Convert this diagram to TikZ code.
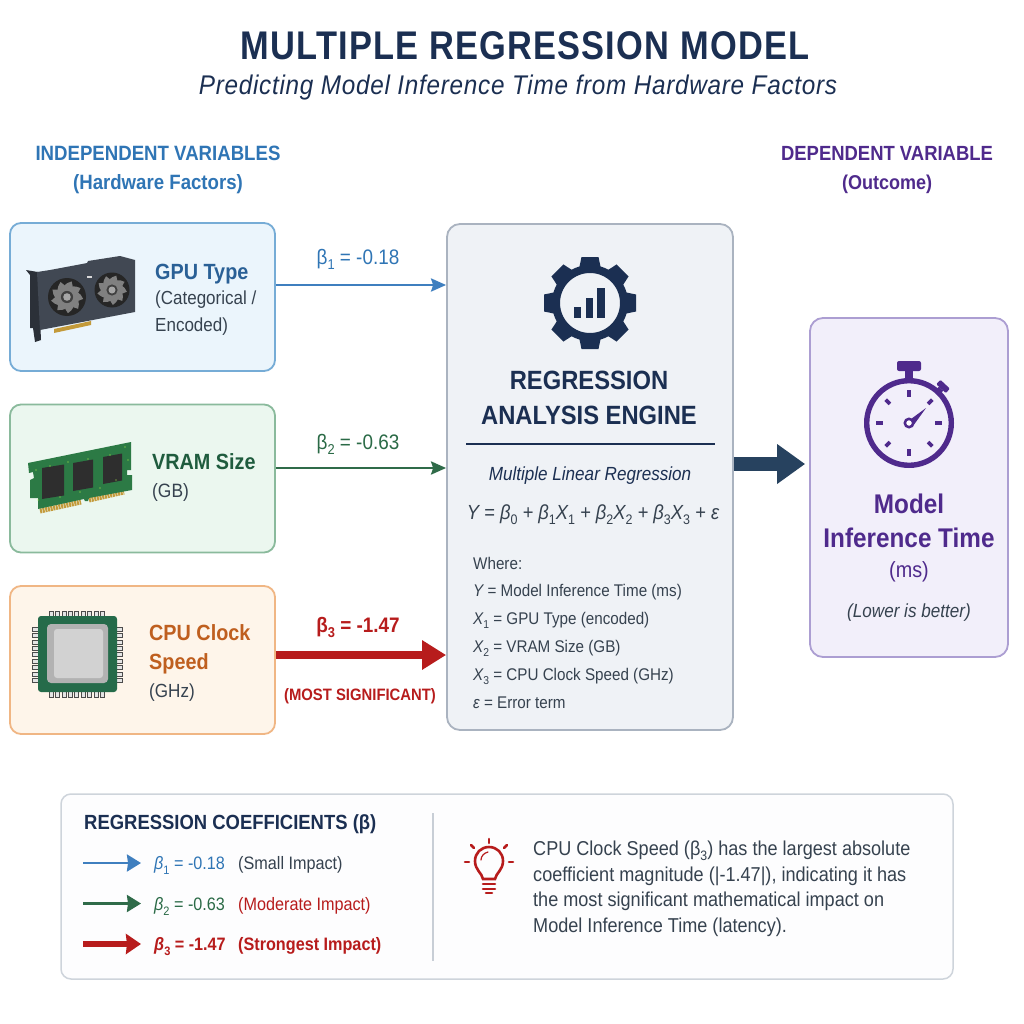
\documentclass[tikz,border=0pt]{standalone}
\usepackage{fontspec}
\setmainfont[FakeStretch=0.9]{Liberation Sans}
\newfontfamily\titlefont[FakeStretch=0.86,LetterSpace=3]{Liberation Sans}
\newfontfamily\subfont[FakeStretch=0.9,LetterSpace=2.7]{Liberation Sans}
\usetikzlibrary{arrows.meta}

\definecolor{navy}{HTML}{1B2F52}
\definecolor{bluetxt}{HTML}{2F75B5}
\definecolor{bluedark}{HTML}{2A6096}
\definecolor{greentxt}{HTML}{2A6A46}
\definecolor{greendark}{HTML}{1F5C3E}
\definecolor{orangetxt}{HTML}{BF5F1F}
\definecolor{redtxt}{HTML}{B71C1C}
\definecolor{purpletxt}{HTML}{4F2A8C}
\definecolor{greytxt}{HTML}{36424F}
\definecolor{arrowblue}{HTML}{3F7FBF}
\definecolor{arrowgreen}{HTML}{2F6B49}
\definecolor{arrowdark}{HTML}{27425F}
\definecolor{cardbody}{HTML}{414853}
\definecolor{cardedge}{HTML}{2B3038}
\definecolor{pcbgreen}{HTML}{2C7A45}
\definecolor{pkggreen}{HTML}{256B4A}
\definecolor{goldpin}{HTML}{C39A3A}

\newcommand{\fs}[1]{\fontsize{#1}{#1}\selectfont}
\newcommand{\sbs}[1]{\raisebox{-.28em}{\scalebox{.68}{\upshape #1}}}
\newcommand{\bt}[1]{{\itshape β}\sbs{#1}}
\newcommand{\bu}[1]{β\sbs{#1}}
\newcommand{\xs}[1]{{\itshape X}\sbs{#1}}

\begin{document}
\begin{tikzpicture}[x=1pt,y=-1pt,>={Stealth[length=15pt,width=13pt,inset=2pt]},node distance=181.5pt,
  inbox/.style={rectangle,rounded corners=11pt,minimum width=265pt,minimum height=148pt,inner sep=0pt,line width=1.8pt},
  bigbox/.style={rectangle,rounded corners=13pt,inner sep=0pt,line width=1.8pt},
  lbl/.style={inner sep=0pt,anchor=base west},
  mid/.style={inner sep=0pt,anchor=base},
  where/.style={lbl,font=\fs{16.9},text=greytxt},
  note/.style={lbl,font=\fs{20.1},text=greytxt},
  legend/.style={lbl,font=\fs{18}}]

\useasboundingbox (0,0) rectangle (1024,1024);
\fill[white] (0,0) rectangle (1024,1024);

% define the title
\node[mid,font=\fs{40}\titlefont\bfseries,text=navy] (title) at (525,60) {MULTIPLE REGRESSION MODEL};
\node[mid,font=\fs{27}\subfont\itshape,text=navy] (subtitle) at (518,95) {Predicting Model Inference Time from Hardware Factors};

\node[mid,font=\fs{20.7}\bfseries,text=bluetxt] (indep) at (158,161) {INDEPENDENT VARIABLES};
\node[mid,font=\fs{20.7}\bfseries,text=bluetxt] (indepsub) at (158,190) {(Hardware Factors)};
\node[mid,font=\fs{20.5}\bfseries,text=purpletxt] (dep) at (887,161) {DEPENDENT VARIABLE};
\node[mid,font=\fs{20}\bfseries,text=purpletxt] (depsub) at (887,190) {(Outcome)};

% define the boxes
\node[inbox,draw={rgb,255:red,118;green,172;blue,214},fill={rgb,255:red,235;green,245;blue,252}] (gpu) at (142.5,297) {};
\node[inbox,draw={rgb,255:red,138;green,186;blue,156},fill={rgb,255:red,235;green,247;blue,239}] (vram) [below of=gpu] {};
\node[inbox,draw={rgb,255:red,240;green,182;blue,132},fill={rgb,255:red,254;green,245;blue,234}] (cpu) [below of=vram] {};
\node[bigbox,draw={rgb,255:red,170;green,179;blue,192},fill={rgb,255:red,239;green,242;blue,246},minimum width=286pt,minimum height=506pt] (engine) at (590,477) {};
\node[bigbox,draw={rgb,255:red,172;green,158;blue,210},fill={rgb,255:red,242;green,239;blue,250},minimum width=198pt,minimum height=339pt] (output) at (909,487.5) {};
\node[rectangle,rounded corners=10pt,draw={rgb,255:red,206;green,212;blue,219},line width=1.5pt,fill={rgb,255:red,253;green,253;blue,254},minimum width=892pt,minimum height=185pt,inner sep=0pt] (panel) at (507,886.5) {};

% box texts
\node[lbl,font=\fs{22}\bfseries,text=bluedark] (gputxt) at (155,279) {GPU Type};
\node[lbl,font=\fs{18.9},text=greytxt] (gpusub) at (155,304) {(Categorical /};
\node[lbl,font=\fs{18.9},text=greytxt] (gpusubb) at (155,331) {Encoded)};
\node[lbl,font=\fs{22}\bfseries,text=greendark] (vramtxt) at (152,469) {VRAM Size};
\node[lbl,font=\fs{19.3},text=greytxt] (vramsub) at (152,497) {(GB)};
\node[lbl,font=\fs{22}\bfseries,text=orangetxt] (cputxt) at (149,640) {CPU Clock};
\node[lbl,font=\fs{22}\bfseries,text=orangetxt] (cputxtb) at (149,669) {Speed};
\node[lbl,font=\fs{19},text=greytxt] (cpusub) at (149,697) {(GHz)};

\node[mid,font=\fs{26.4}\bfseries,text=navy] (engtxt) at (589,389) {REGRESSION};
\node[mid,font=\fs{26.4}\bfseries,text=navy] (engtxtb) at (589,424) {ANALYSIS ENGINE};
\draw[navy,line width=1.4pt] (466,444) -- (715,444);
\node[mid,font=\fs{19}\itshape,text=navy] (mlr) at (590,480) {Multiple Linear Regression};
\node[mid,font=\fs{20.4}\itshape,text=greytxt] (formula) at (593,519) {Y = \bt{0} + \bt{1}X\sbs{1} + \bt{2}X\sbs{2} + \bt{3}X\sbs{3} + ε};
\node[where] (wh0) at (473,569) {Where:};
\node[where] (wh1) at (473,596) {{\itshape Y} = Model Inference Time (ms)};
\node[where] (wh2) at (473,624) {\xs{1} = GPU Type (encoded)};
\node[where] (wh3) at (473,652) {\xs{2} = VRAM Size (GB)};
\node[where] (wh4) at (473,680) {\xs{3} = CPU Clock Speed (GHz)};
\node[where] (wh5) at (473,708) {{\itshape ε} = Error term};

\node[mid,font=\fs{27}\bfseries,text=purpletxt] (outtxt) at (909,513) {Model};
\node[mid,font=\fs{27}\bfseries,text=purpletxt] (outtxtb) at (909,547) {Inference Time};
\node[mid,font=\fs{22},text=purpletxt] (outsub) at (909,577) {(ms)};
\node[mid,font=\fs{19}\itshape,text=greytxt] (outnote) at (909,617) {(Lower is better)};

% define the links
\path[->,draw=arrowblue,line width=2.6pt] ([yshift=12pt]gpu.east) -- ([yshift=12pt]gpu.east -| engine.west);
\path[->,draw=arrowgreen,line width=2.6pt] ([yshift=10.5pt]vram.east) -- ([yshift=10.5pt]vram.east -| engine.west);
\path[-{Stealth[length=24pt,width=28pt,inset=0pt]},draw=redtxt,line width=8pt] (cpu.east |- 0,655) -- (engine.west |- 0,655);
\path[-{Stealth[length=28pt,width=38pt,inset=0pt]},draw=arrowdark,line width=14pt,shorten >=4pt] (engine.east |- 0,464) -- (output.west |- 0,464);

\node[mid,font=\fs{21},text=bluetxt] (b1) at (358,264) {\bu{1} = -0.18};
\node[mid,font=\fs{21},text=greentxt] (b2) at (358,449) {\bu{2} = -0.63};
\node[mid,font=\fs{21}\bfseries,text=redtxt] (b3) at (358,632) {\bu{3} = -1.47};
\node[mid,font=\fs{16.5}\bfseries,text=redtxt] (most) at (360,700) {(MOST SIGNIFICANT)};

% panel contents
\node[lbl,font=\fs{20.5}\bfseries,text=navy] (coef) at (84,829) {REGRESSION COEFFICIENTS (β)};
\draw[draw={rgb,255:red,200;green,206;blue,214},line width=1.2pt] (433,813) -- (433,961);

\coordinate (la1) at (83,863);
\coordinate (la1e) at (141,863);
\coordinate (la2) at (83,903.5);
\coordinate (la2e) at (141,903.5);
\coordinate (la3) at (83,944);
\coordinate (la3e) at (141,944);
\path[-{Stealth[length=14pt,width=17pt,inset=1pt]},draw=arrowblue,line width=2.6pt] (la1) -- (la1e);
\path[-{Stealth[length=14pt,width=17pt,inset=1pt]},draw=arrowgreen,line width=2.6pt] (la2) -- (la2e);
\path[-{Stealth[length=15pt,width=20pt,inset=1pt]},draw=redtxt,line width=6.5pt] (la3) -- (la3e);

\node[legend,text=bluetxt] (l1) at (154,869) {\bt{1} = -0.18};
\node[legend,text=greytxt] (l1b) at (238,869) {(Small Impact)};
\node[legend,text=greentxt] (l2) at (154,910) {\bt{2} = -0.63};
\node[legend,text=redtxt] (l2b) at (238,910) {(Moderate Impact)};
\node[legend,text=redtxt,font=\fs{18}\bfseries] (l3) at (154,950) {\bt{3} = -1.47};
\node[legend,text=redtxt,font=\fs{18}\bfseries] (l3b) at (238,950) {(Strongest Impact)};

\node[note] (n1) at (533,855) {CPU Clock Speed (β\sbs{3}) has the largest absolute};
\node[note] (n2) at (533,881) {coefficient magnitude (|-1.47|), indicating it has};
\node[note] (n3) at (533,906) {the most significant mathematical impact on};
\node[note] (n4) at (533,932) {Model Inference Time (latency).};

% graphics card
\fill[cardedge] (26,270) -- (38,272) -- (41,340) -- (35,342) -- (33,328) -- (30,328) -- (30,275) -- cycle;
\fill[goldpin] (54,329) -- (91,321) -- (91,325) -- (54,333) -- cycle;
\fill[cardbody] (37,272) -- (50,270) -- (82,264) -- (87,263) -- (88,261) -- (120,256) -- (135,260) -- (135,312) -- (40,330) -- cycle;
\foreach \fx/\fy/\fr in {67/297/19,112/290/17.5} {
  \begin{scope}[shift={(\fx,\fy)}]
    \fill[black!85] (0,0) circle (\fr);
    \foreach \a in {0,40,...,320}
      \fill[black!50,rotate=\a] (0,-.25*\fr) .. controls (.5*\fr,-.45*\fr) and (.7*\fr,-.2*\fr) .. (.85*\fr,.1*\fr) -- (.6*\fr,.2*\fr) .. controls (.45*\fr,-.05*\fr) and (.2*\fr,-.15*\fr) .. cycle;
    \fill[black!75] (0,0) circle (.32*\fr);
    \fill[gray!70] (0,0) circle (.2*\fr);
  \end{scope}
}
\fill[black!15] (87,276) rectangle (92,278);

% memory module
\draw[goldpin,line width=5pt,dash pattern=on 2pt off .7pt] (40,511) -- (81,502);
\draw[goldpin,line width=5pt,dash pattern=on 2pt off .7pt] (89,500) -- (124,492);
\fill[pcbgreen] (28,463) -- (131,442) -- (131,470) -- (127,470) -- (127,475) -- (132,475) -- (132,490) -- (89,498) -- (88,501) -- (85,501) -- (84,499) -- (38,509) -- (38,498) -- (30,498) -- (30,480) -- (34,478) -- (33,472) -- (29,473) -- cycle;
\foreach \cx/\cy/\cw/\ch in {42/468/22/31,73/463/20/28,103/457/19/27}
  \fill[black!82] (\cx,\cy) -- ++(\cw,-3.5) -- ++(0,\ch) -- ++(-\cw,3.5) -- cycle;
\foreach \dx/\dy in {36/470,50/466,68/462,88/459,110/455,125/447,128/460,38/500,60/497,80/492,100/488,116/480}
  \fill[green!40!yellow!70!white] (\dx,\dy) circle (.7);

% processor
\foreach \k in {0,...,8} {
  \filldraw[fill=gray!20,draw=black!70,line width=.6pt] (49+\k*6.4,611) rectangle ++(4,6);
  \filldraw[fill=gray!20,draw=black!70,line width=.6pt] (49+\k*6.4,691) rectangle ++(4,6);
  \filldraw[fill=gray!20,draw=black!70,line width=.6pt] (32,627+\k*6.4) rectangle ++(7,4);
  \filldraw[fill=gray!20,draw=black!70,line width=.6pt] (116,627+\k*6.4) rectangle ++(6,4);
}
\fill[pkggreen,rounded corners=3pt] (38,616) rectangle (117,692);
\fill[gray!60,rounded corners=4pt] (47,624) rectangle (108,683);
\fill[gray!35,rounded corners=3pt] (54,629) rectangle (103,678);

% gear
\begin{scope}[shift={(590,303)}]
  \draw[navy,line width=8pt] (0,0) circle (34);
  \foreach \a in {0,45,...,315}
    \fill[navy,rotate=\a] (-11,-34) -- (-8.5,-46) -- (8.5,-46) -- (11,-34) -- cycle;
\end{scope}
\fill[navy] (574,307) rectangle (581,318);
\fill[navy] (586,298) rectangle (593,318);
\fill[navy] (597,288) rectangle (605,318);

% stopwatch
\begin{scope}[shift={(909,423)},purpletxt]
  \draw[purpletxt,line width=5.4pt] (0,0) circle (42.3);
  \fill[purpletxt,rounded corners=2pt] (-12,-62) rectangle (12,-52);
  \fill[purpletxt] (-4,-53) rectangle (4,-44);
  \fill[purpletxt,rotate=-43] (-3,-47) rectangle (3,-42);
  \fill[purpletxt,rotate=-43,rounded corners=1pt] (-6.5,-53) rectangle (6.5,-47);
  \foreach \a in {0,90,180,270}
    \fill[purpletxt,rotate=\a] (-2,-33) rectangle (2,-26);
  \foreach \a in {45,135,225,315}
    \fill[purpletxt,rotate=\a] (-1.8,-33) rectangle (1.8,-27);
  \fill[purpletxt] (2,-4) -- (17,-15) -- (4,3) -- cycle;
  \draw[purpletxt,line width=2.5pt,fill=white] (0,0) circle (4.2);
\end{scope}

% bulb
\begin{scope}[redtxt,line width=2.6pt,line cap=round]
  \draw[redtxt] (483,879) .. controls (482,873) and (475,870) .. (475,861) .. controls (475,853) and (481,847) .. (489,847) .. controls (497,847) and (503,853) .. (503,861) .. controls (503,870) and (496,873) .. (495,879) -- cycle;
  \draw[redtxt,line width=1.2pt] (481,860) .. controls (481,856) and (484,853) .. (488,852);
  \draw[redtxt] (483,884) -- (495,884);
  \draw[redtxt] (483,889) -- (495,889);
  \draw[redtxt] (486,893) -- (492,893);
  \draw[redtxt] (489,839) -- (489,843);
  \draw[redtxt] (471,845) -- (474,848);
  \draw[redtxt] (507,845) -- (504,848);
  \draw[redtxt] (465,862) -- (469,862);
  \draw[redtxt] (509,862) -- (513,862);
\end{scope}
\end{tikzpicture}
\end{document}
